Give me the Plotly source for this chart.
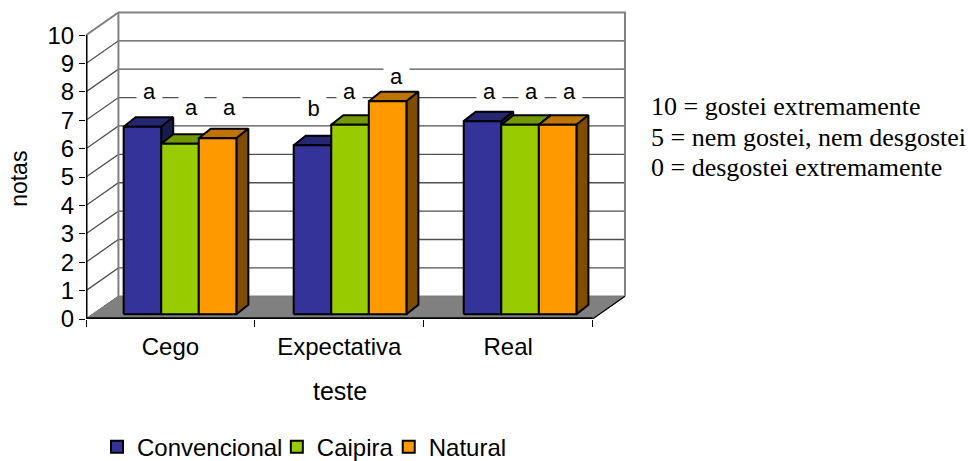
import plotly.graph_objects as go

categories = ["Cego", "Expectativa", "Real"]
series_names = ["Convencional", "Caipira", "Natural"]
convencional = [6.6, 5.95, 6.8]
caipira = [6.0, 6.67, 6.67]
natural = [6.2, 7.5, 6.67]
letters_convencional = ["a", "b", "a"]
letters_caipira = ["a", "a", "a"]
letters_natural = ["a", "a", "a"]
y_ticks = list(range(0, 11))
notes = ["10 = gostei extremamente", "5 = nem gostei, nem desgostei", "0 = desgostei extremamente"]

# style / geometry (axis units: 1 x unit = 169px, 1 y unit = 28.45px)
FRONT = ["#333399", "#99CC00", "#FF9900"]
TOP = ["#262673", "#739900", "#BF7300"]
SIDE = ["#1A1A4D", "#5C7A00", "#804D00"]
WALL_DX, WALL_DY = 0.192, 0.80
BAR_DX, BAR_DY = 0.071, 0.335
BASE = 0.17
BAR_W = 0.2225
BAR_START = -0.277
GROUP_STEP = 1.007
GRID = "#505050"
FRAME = "#808080"
PX_X, PX_Y = 169.0, 28.45
LEFT_PX, ZERO_PX = 86.0, 319.5

values = [convencional, caipira, natural]
letters = [letters_convencional, letters_caipira, letters_natural]
x_lo, x_hi = -0.5, len(categories) - 0.5
x_end = x_hi + WALL_DX + 0.012
y_end = 10 + WALL_DY + 0.05
PLOT_W = (x_end - x_lo) * PX_X
PLOT_H = y_end * PX_Y

fig = go.Figure()


def poly(xs, ys, fill=None, line="black", width=1.0):
    fig.add_trace(go.Scatter(
        x=xs, y=ys, mode="lines", showlegend=False, hoverinfo="skip",
        fill="toself" if fill else None, fillcolor=fill,
        line=dict(color=line, width=width),
    ))


def paper_x(px):
    return (px - LEFT_PX) / PLOT_W


def paper_y(px):
    return (ZERO_PX - px) / PLOT_H


# left wall and back wall grid lines
for v in y_ticks[:-1]:
    poly([x_lo, x_lo + WALL_DX, x_hi + WALL_DX],
         [v, v + WALL_DY, v + WALL_DY], line=GRID, width=1.3)
# outer frame
poly([x_lo, x_lo + WALL_DX, x_hi + WALL_DX, x_hi + WALL_DX],
     [10, 10 + WALL_DY, 10 + WALL_DY, WALL_DY], line=FRAME, width=2)
poly([x_lo + WALL_DX, x_lo + WALL_DX], [WALL_DY, 10 + WALL_DY], line=FRAME, width=2)
# floor
poly([x_lo, x_lo + WALL_DX, x_hi + WALL_DX, x_hi, x_lo],
     [0, WALL_DY, WALL_DY, 0, 0], fill="#808080", line="#808080", width=1)
poly([x_hi, x_hi + WALL_DX], [0, WALL_DY], line="black", width=1.2)

# bars
for c in range(len(categories)):
    for s in range(len(series_names)):
        v = values[s][c]
        x0 = c * GROUP_STEP + BAR_START + s * BAR_W
        x1 = x0 + BAR_W
        y0, y1 = BASE, BASE + v
        poly([x0, x0 + BAR_DX, x1 + BAR_DX, x1, x0],
             [y1, y1 + BAR_DY, y1 + BAR_DY, y1, y1], fill=TOP[s], width=2)
        poly([x1, x1 + BAR_DX, x1 + BAR_DX, x1, x1],
             [y1, y1 + BAR_DY, y0 + BAR_DY, y0, y1], fill=SIDE[s], width=2)
        poly([x0, x1, x1, x0, x0], [y0, y0, y1, y1, y0], fill=FRONT[s], width=2)

# front axis lines (they stop at the front plane, short of the plot area's far edges)
poly([x_lo, x_lo], [0, 10], line="black", width=3)
poly([x_lo, x_hi], [0, 0], line="black", width=3.5)

# legend entries, one legend each so every entry sits at its own place
legend_ids = ["legend", "legend2", "legend3"]
legend_left_px = [97, 277, 389]
for s, name in enumerate(series_names):
    fig.add_trace(go.Scatter(
        x=[None], y=[None], mode="markers", name=name, legend=legend_ids[s], showlegend=True,
        marker=dict(symbol="square", size=14, color=FRONT[s], line=dict(color="black", width=1.5)),
    ))

# significance letters: pixel offsets from the bar's top-front-left corner
label_dx = [[26, 30, 31], [20, 18, 28], [26, 30, 31]]
label_dy = [[-36, -37, -31], [-37, -34, -25], [-30, -34, -34]]
annotations = []
for c in range(len(categories)):
    for s in range(len(series_names)):
        annotations.append(dict(
            x=c * GROUP_STEP + BAR_START + s * BAR_W, y=BASE + values[s][c], xref="x", yref="y",
            text=letters[s][c], showarrow=False, xanchor="center", yanchor="middle",
            xshift=label_dx[c][s], yshift=-label_dy[c][s], bgcolor="white", borderpad=0,
            width=25, height=24, align="center",
            font=dict(family="Liberation Sans", size=22, color="black"),
        ))

# note lines at the right
for i, t in enumerate(notes):
    annotations.append(dict(
        x=paper_x(649), y=paper_y(107 + i * 30.5), xref="paper", yref="paper", text=t,
        showarrow=False, xanchor="left", yanchor="middle",
        font=dict(family="Liberation Serif", size=26, color="black"),
    ))

# axis titles, placed where the reference has them (centred on the front plane)
annotations.append(dict(
    x=paper_x(340), y=paper_y(392), xref="paper", yref="paper", text="teste", showarrow=False,
    xanchor="center", yanchor="middle", font=dict(family="Liberation Sans", size=25, color="black"),
))
annotations.append(dict(
    x=paper_x(19), y=paper_y(179), xref="paper", yref="paper", text="notas", showarrow=False,
    textangle=-90, xanchor="center", yanchor="middle",
    font=dict(family="Liberation Sans", size=23, color="black"),
))


def legend_at(left_px):
    return dict(
        orientation="h", x=paper_x(left_px), y=paper_y(448), xanchor="left", yanchor="middle",
        font=dict(size=24), itemsizing="constant", bgcolor="rgba(0,0,0,0)",
    )


fig.update_layout(
    width=968, height=461, autosize=False,
    margin=dict(l=LEFT_PX, r=968 - LEFT_PX - PLOT_W, t=ZERO_PX - PLOT_H, b=461 - ZERO_PX,
                autoexpand=False),
    paper_bgcolor="white", plot_bgcolor="rgba(0,0,0,0)",
    font=dict(family="Liberation Sans", color="black"),
    annotations=annotations,
    legend=legend_at(legend_left_px[0]),
    legend2=legend_at(legend_left_px[1]),
    legend3=legend_at(legend_left_px[2]),
    xaxis=dict(
        range=[x_lo, x_end], tickvals=list(range(len(categories))), ticktext=categories,
        ticks="", showgrid=False, zeroline=False, showline=False,
        tickfont=dict(size=24), ticklabelstandoff=11,
        minor=dict(tickvals=[x_lo + i for i in range(len(categories) + 1)], ticks="outside",
                   ticklen=7, tickcolor="black", tickwidth=1.3, showgrid=False),
    ),
    yaxis=dict(
        range=[0, y_end], tickvals=y_ticks, ticks="outside", ticklen=6, tickcolor="black", tickwidth=1.3,
        showgrid=False, zeroline=False, showline=False,
        tickfont=dict(size=24), ticklabelstandoff=0,
    ),
)

fig.write_html("out.html", config=dict(displayModeBar=False),
               post_script="document.body.style.margin='0';")
